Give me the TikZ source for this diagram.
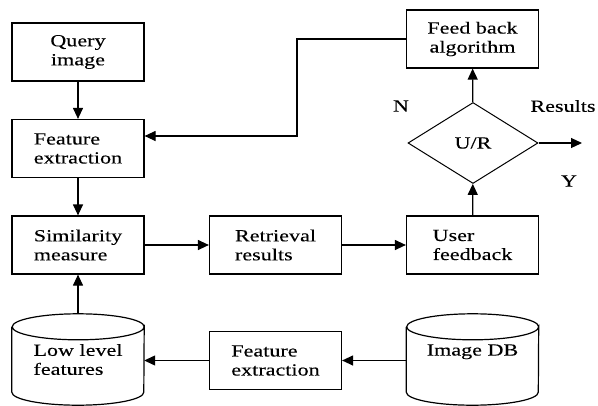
\documentclass[tikz,border=0pt]{standalone}
\usepackage{fontspec}
\setmainfont[FakeStretch=1.3,FakeBold=0.15]{Liberation Serif}
\usetikzlibrary{arrows.meta,shapes.geometric}
\tikzset{
  every node/.style={font=\fontsize{17}{19}\selectfont},
  boxnode/.style={draw, line width=1.2pt, minimum width=132pt, minimum height=58pt, align=left, inner sep=0pt},
  dbnode/.style={minimum width=132pt, minimum height=91pt, align=left, inner sep=0pt},
  decide/.style={draw, diamond, line width=1pt, aspect=1.6, minimum width=130pt, minimum height=81pt, inner sep=0pt},
  conn/.style={line width=1.2pt, -{Triangle[length=11pt,width=10pt]}},
  lbl/.style={inner sep=0pt}
}
\begin{document}
\begin{tikzpicture}[x=1pt,y=-1pt]
\useasboundingbox (0,0) rectangle (598,405);
\node[boxnode,align=center] (qi) at (78,52) {Query\\image};
\node[boxnode] (fe1) at (78,148.5) {Feature\\extraction};
\node[boxnode] (sim) at (78,245) {Similarity\\measure};
\node[boxnode] (ret) at (275.5,245) {Retrieval\\results};
\node[boxnode] (uf) at (472.5,245) {User\\feedback};
\node[boxnode,align=center] (fb) at (472.5,39) {Feed back\\algorithm};
\node[boxnode] (fe2) at (275.5,360.5) {Feature\\extraction};
\node[decide] (ur) at (473,143) {U/R};
% cylinders
\node[dbnode] (low) at (78,359.5) {Low level\\features};
\node[dbnode] (idb) at (472.5,359.5) {Image DB\\\mbox{}};
\foreach \c in {low,idb}{
  \draw[line width=1.2pt] ([yshift=-13pt]\c.north west) -- ([yshift=13pt]\c.south west)
     arc[start angle=180,end angle=360,x radius=66pt,y radius=13pt]
     -- ([yshift=-13pt]\c.north east)
     arc[start angle=0,end angle=-180,x radius=66pt,y radius=13pt]
     arc[start angle=180,end angle=360,x radius=66pt,y radius=-13pt];
}
% labels
\node[lbl] (n) at (401,106) {N};
\node[lbl] (rs) at (563,106) {Results};
\node[lbl] (yy) at (569,181) {Y};
\coordinate (resend) at (582,143);
\coordinate (turn) at (297,136);
% connectors
\draw[conn] (qi) -- (fe1);
\draw[conn] (fe1) -- (sim);
\draw[conn] (low.north) -- (sim);
\draw[conn] (sim) -- (ret);
\draw[conn] (ret) -- (uf);
\draw[conn] (uf) -- (ur);
\draw[conn] (ur) -- (fb);
\draw[conn] (ur.east) -- (resend);
\draw[conn] (fb.west) -| (turn) -- (turn -| fe1.east);
\draw[conn] (fe2.west) -- (fe2.west -| low.east);
\draw[conn] (idb.west |- fe2.west) -- (fe2.east);
\end{tikzpicture}
\end{document}
